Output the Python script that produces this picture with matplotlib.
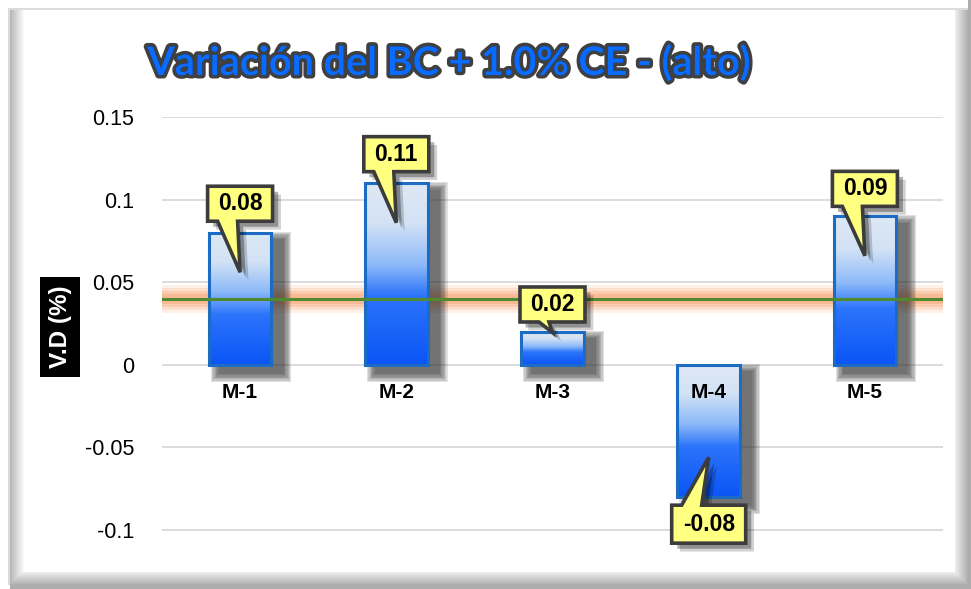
import matplotlib
matplotlib.use("Agg")
import matplotlib.pyplot as plt
import numpy as np
from matplotlib.colors import LinearSegmentedColormap
from matplotlib.patches import Rectangle, Polygon
import matplotlib.patheffects as pe
import matplotlib.transforms as mtransforms

# data
muestras = ["M-1", "M-2", "M-3", "M-4", "M-5"]
variacion = [0.08, 0.11, 0.02, -0.08, 0.09]
limite = 0.04
yticks = [-0.1, -0.05, 0, 0.05, 0.1, 0.15]
yticklabels = ["-0.1", "-0.05", "0", "0.05", "0.1", "0.15"]

# callout placement: box centre / pointer tip as offsets from the bar value,
# pointer base (pixels from the box's left edge)
box_off = [0.0175, 0.0175, 0.0165, -0.0165, 0.0165]
tip_off = [-0.024, -0.024, -0.0005, 0.024, -0.024]
base_px = [(10, 30), (10, 30), (19, 29), (10, 30), (10, 30)]

W, H = 971, 589
fig = plt.figure(figsize=(W / 100, H / 100), dpi=100)
fig.patch.set_facecolor("white")

# frame with soft shading on left / right / bottom
bg = np.ones((H, W, 3))
bg[8:10, 8:968] = 0.86
bg[8:585, 8:10] = 0.86
for k in range(14):
    v = 0.72 + 0.28 * k / 14
    bg[10:585, 10 + k] = np.minimum(bg[10:585, 10 + k], v)
    bg[10:589, 968 - k] = np.minimum(bg[10:589, 968 - k], v - 0.05)
    bg[585 - k, 10:971] = np.minimum(bg[585 - k, 10:971], v - 0.05)
bg[585:, 10:] = 0.68
bg[:, 968:] = np.minimum(bg[:, 968:], 0.68)
bga = fig.add_axes([0, 0, 1, 1], zorder=-10)
bga.imshow(bg, aspect="auto", interpolation="bilinear")
bga.axis("off")

ax = fig.add_axes([162 / W, 1 - 563 / H, (943 - 162) / W, (563 - 117) / H])
ax.set_xlim(-0.5, len(muestras) - 0.5)
ax.set_ylim(-0.12, 0.15)
ax.set_facecolor("none")
for s in ax.spines.values():
    s.set_visible(False)
ax.set_yticks(yticks)
ax.set_yticklabels(yticklabels, fontsize=15.5, family="Liberation Sans")
ax.set_xticks([])
ax.tick_params(axis="y", length=0, pad=20)
ax.grid(axis="y", color="#d9d9d9", lw=1.3, zorder=0)
ax.set_axisbelow(True)

# reference band and line
for i, a in enumerate([0.16, 0.22, 0.3, 0.4]):
    h = 0.0085 - i * 0.0018
    ax.axhspan(limite - h, limite + h, color="#f5a26c", alpha=a, lw=0, zorder=1)
ax.axhline(limite, color="#4f8a2e", lw=2.2, zorder=6)

bar_cmap = LinearSegmentedColormap.from_list(
    "barra", [(0, "#dde8f4"), (0.22, "#d3e2f5"), (0.45, "#8cb9f8"),
              (0.62, "#2c74fb"), (1, "#0a55f6")])
grad = np.linspace(0, 1, 256).reshape(-1, 1)

bw = 0.4
px_x = 1.0 / (943 - 162) * len(muestras)
px_y = 0.27 / (563 - 117)
for i, v in enumerate(variacion):
    lo, hi = min(0, v), max(0, v)
    # blurred drop shadow
    for k in range(7):
        e = (7 - k) * 1.3
        sh = Rectangle((i - bw / 2 + 11 * px_x - e * px_x, lo - 8 * px_y - e * px_y),
                       bw + 2 * e * px_x, hi - lo + 2 * e * px_y,
                       fc="#333333", ec="none", alpha=0.15, zorder=2)
        ax.add_patch(sh)
    im = ax.imshow(grad, cmap=bar_cmap, aspect="auto", zorder=3,
                   extent=(i - bw / 2, i + bw / 2, lo, hi), origin="upper")
    rect = Rectangle((i - bw / 2, lo), bw, hi - lo, fc="none", ec="#1c6cc4",
                     lw=2.2, zorder=4)
    ax.add_patch(rect)
    im.set_clip_path(rect)
    ax.text(i, -0.017, muestras[i], ha="center", va="center", fontsize=15,
            fontweight="bold", family="Liberation Sans", zorder=7)

ax.set_xlim(-0.5, len(muestras) - 0.5)
ax.set_ylim(-0.12, 0.15)

# yellow callouts (box + pointer as one outline, in pixels)
shadow = [pe.SimplePatchShadow(offset=(6, -6), shadow_rgbFace="#000000", alpha=0.18),
          pe.SimplePatchShadow(offset=(4, -4), shadow_rgbFace="#000000", alpha=0.3),
          pe.Normal()]
for i, v in enumerate(variacion):
    label = f"{v:.2f}"
    cx, cy = ax.transData.transform((i, v + box_off[i]))
    tx, ty = ax.transData.transform((i, v + tip_off[i]))
    bwid = 65 if v >= 0 else 74
    bh = 35 if v >= 0 else 38
    l, r = cx - bwid / 2, cx + bwid / 2
    b, t = cy - bh / 2, cy + bh / 2
    b0, b1 = l + base_px[i][0], l + base_px[i][1]
    if v >= 0:
        pts = [(l, t), (r, t), (r, b), (b1, b), (tx, ty), (b0, b), (l, b)]
    else:
        pts = [(l, b), (r, b), (r, t), (b1, t), (tx, ty), (b0, t), (l, t)]
    poly = Polygon(pts, closed=True, fc="#ffff80", ec="#3c3c3c", lw=2.6,
                   joinstyle="miter", transform=mtransforms.IdentityTransform(),
                   zorder=8, clip_on=False)
    poly.set_path_effects(shadow)
    ax.add_patch(poly)
    ax.text(i, v + box_off[i], label, ha="center", va="center", fontsize=16.5,
            fontweight="bold", family="Liberation Sans", zorder=9)

fig.text(0.463, 0.893, "Variación del BC + 1.0% CE - (alto)", ha="center",
         va="center", fontsize=28.5, fontweight="bold", family="Lato",
         color="#0a6cff",
         path_effects=[pe.withStroke(linewidth=5, foreground="#101010", alpha=0.8)])

fig.text(60 / W, 1 - 327 / H, "V.D (%)", rotation=90, ha="center", va="center",
         fontsize=17.5, fontweight="bold", family="Liberation Sans", color="white",
         bbox=dict(boxstyle="square,pad=0.35", fc="black", ec="none"))

fig.savefig("out.png", dpi=100)
